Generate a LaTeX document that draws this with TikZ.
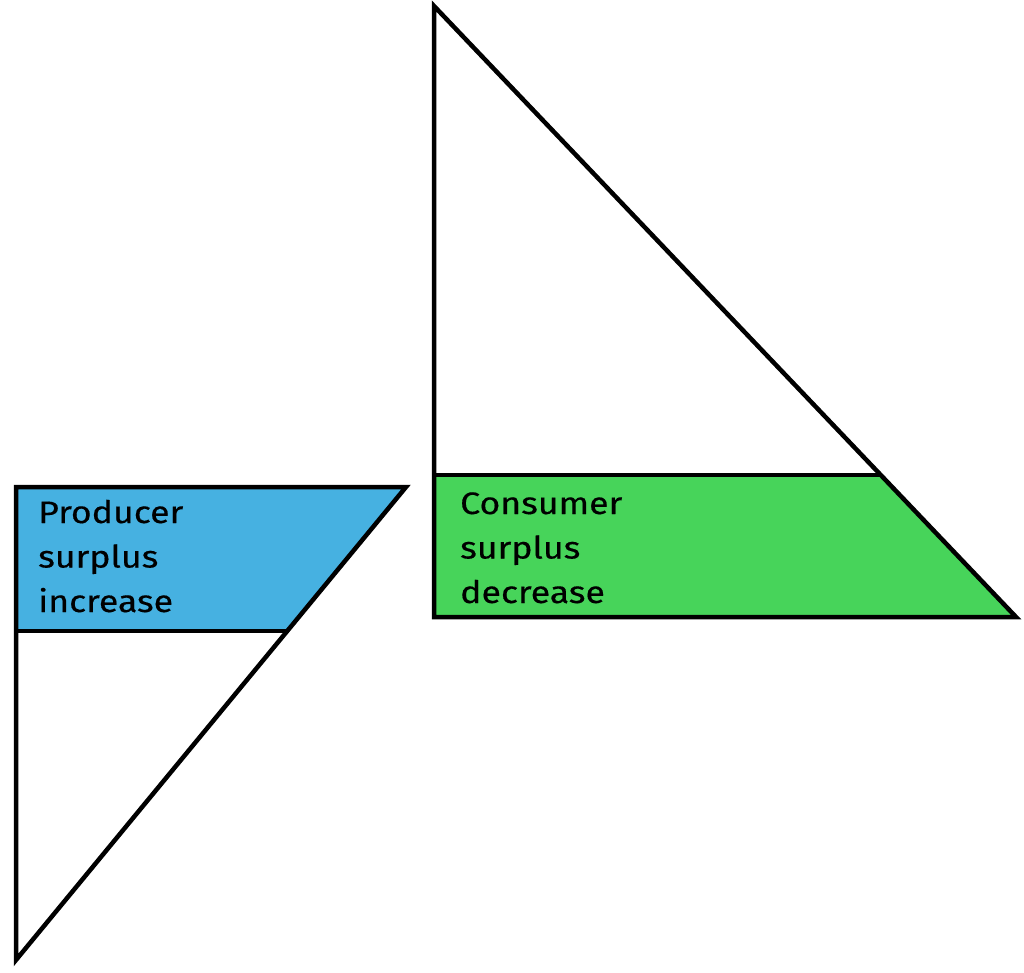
\documentclass[tikz,border=0pt]{standalone}
\usepackage{fontspec}
\setmainfont{Fira Sans}[FakeStretch=1.15,FakeBold=0.4]
\definecolor{psblue}{HTML}{46B1E1}
\definecolor{csgreen}{HTML}{47D45A}
\begin{document}
\begin{tikzpicture}[x=1pt,y=-1pt,
  shapeline/.style={draw=black,line width=4.5pt,line join=miter},
  lbl/.style={anchor=base west,inner sep=0pt,font=\fontsize{31}{44.5}\selectfont,align=left}]
\useasboundingbox (0,0) rectangle (1024,973);
% left figure
\coordinate (L1) at (16,487);
\coordinate (L2) at (406,487);
\coordinate (L3) at (287,631);
\coordinate (L4) at (16,631);
\coordinate (L5) at (16,960);
\fill[psblue] (L1) -- (L2) -- (L3) -- (L4) -- cycle;
\draw[shapeline] (L1) -- (L2) -- (L5) -- cycle;
\draw[shapeline] (L4) -- (L3);
% right figure
\coordinate (R1) at (434,6);
\coordinate (R2) at (434,475);
\coordinate (R3) at (880,475);
\coordinate (R4) at (1016,617);
\coordinate (R5) at (434,617);
\fill[csgreen] (R2) -- (R3) -- (R4) -- (R5) -- cycle;
\draw[shapeline] (R1) -- (R4) -- (R5) -- cycle;
\draw[shapeline] (R2) -- (R3);
% labels
\node[lbl] (ps) at (38,612) {Producer\\surplus\\increase};
\node[lbl] (cs) at (460,603) {Consumer\\surplus\\decrease};
\end{tikzpicture}
\end{document}
